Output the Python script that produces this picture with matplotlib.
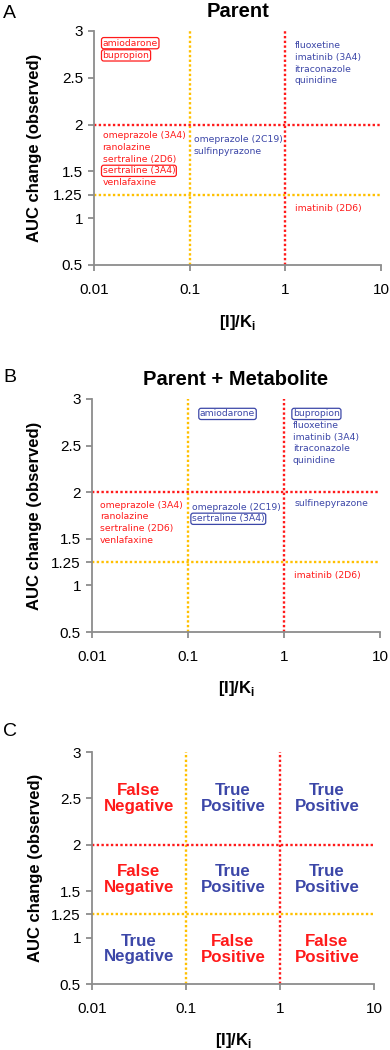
import matplotlib
matplotlib.use("Agg")
import matplotlib.pyplot as plt
import numpy as np

plt.rcParams['font.family'] = ['Liberation Sans', 'DejaVu Sans']
plt.rcParams['mathtext.fontset'] = 'custom'
plt.rcParams['mathtext.bf'] = 'Liberation Sans:bold'
plt.rcParams['mathtext.rm'] = 'Liberation Sans'

RED = '#ff1a1a'
BLUE = '#3c47a8'
ORANGE = '#ffc000'
GREY = '#8c8c8c'

# axis setup
x_ticks = [0.01, 0.1, 1, 10]
x_tick_labels = ['0.01', '0.1', '1', '10']
y_ticks = [0.5, 1, 1.25, 1.5, 2, 2.5, 3]
y_tick_labels = ['0.5', '1', '1.25', '1.5', '2', '2.5', '3']
ki_cutoffs = [0.1, 1]          # vertical thresholds
ki_colors = [ORANGE, RED]
auc_cutoffs = [1.25, 2]        # horizontal thresholds
auc_colors = [ORANGE, RED]

# panel A: parent
a_fn = ['amiodarone', 'bupropion']
a_fn_box = [True, True]
a_tp_high = ['fluoxetine', 'imatinib (3A4)', 'itraconazole', 'quinidine']
a_fn_mid = ['omeprazole (3A4)', 'ranolazine', 'sertraline (2D6)', 'sertraline (3A4)', 'venlafaxine']
a_fn_mid_box = [False, False, False, True, False]
a_tp_mid = ['omeprazole (2C19)', 'sulfinpyrazone']
a_fp_high = ['imatinib (2D6)']

# panel B: parent + metabolite
b_tp_mid_high = ['amiodarone']
b_tp_high = ['bupropion', 'fluoxetine', 'imatinib (3A4)', 'itraconazole', 'quinidine']
b_tp_high_box = [True, False, False, False, False]
b_fn_mid = ['omeprazole (3A4)', 'ranolazine', 'sertraline (2D6)', 'venlafaxine']
b_tp_mid = ['omeprazole (2C19)', 'sertraline (3A4)']
b_tp_mid_box = [False, True]
b_tp_mid_right = ['sulfinepyrazone']
b_fp_high = ['imatinib (2D6)']

# panel C: outcome grid
c_cols = [0.0316, 0.316, 3.16]
c_rows = [2.5, 1.625, 0.875]
c_labels = [['False\nNegative', 'True\nPositive', 'True\nPositive'],
            ['False\nNegative', 'True\nPositive', 'True\nPositive'],
            ['True\nNegative', 'False\nPositive', 'False\nPositive']]
c_colors = [[RED, BLUE, BLUE], [RED, BLUE, BLUE], [BLUE, RED, RED]]

W, H = 390, 1050
fig = plt.figure(figsize=(W / 100, H / 100), dpi=100)


def make_axes(left, right, top, bottom):
    ax = fig.add_axes([left / W, 1 - bottom / H, (right - left) / W, (bottom - top) / H])
    ax.set_xscale('log')
    ax.set_xlim(0.01, 10)
    ax.set_ylim(0.5, 3)
    ax.set_xticks(x_ticks)
    ax.set_xticklabels(x_tick_labels)
    ax.minorticks_off()
    ax.set_yticks(y_ticks)
    ax.set_yticklabels(y_tick_labels)
    for s in ['top', 'right']:
        ax.spines[s].set_visible(False)
    for s in ['left', 'bottom']:
        ax.spines[s].set_color(GREY)
        ax.spines[s].set_linewidth(1.3)
    ax.tick_params(axis='y', length=4, width=1.3, color=GREY, labelsize=11, pad=4)
    ax.tick_params(axis='x', length=4, width=1.3, color=GREY, labelsize=11, pad=9)
    for xv, c in zip(ki_cutoffs, ki_colors):
        ax.axvline(xv, color=c, lw=1.7, ls=(0, (1, 1)), zorder=1)
    for yv, c in zip(auc_cutoffs, auc_colors):
        ax.axhline(yv, color=c, lw=1.7, ls=(0, (1, 1)), zorder=1)
    ax.set_ylabel('AUC change (observed)', fontsize=12, fontweight='bold', va='center')
    ax.yaxis.set_label_coords((35 - left) / (right - left), 0.5)
    ax.set_xlabel(r'[I]/K$_\mathbf{i}$', fontsize=12, fontweight='bold', va='center')
    ax.xaxis.set_label_coords(0.5, -57 / (bottom - top))
    return ax


def stack(ax, x, y, names, color, boxed=None, step=8.4):
    if boxed is None:
        boxed = [False] * len(names)
    for i, (n, b) in enumerate(zip(names, boxed)):
        bbox = None
        if b:
            bbox = dict(boxstyle='round,pad=0.12,rounding_size=0.25', fc='white', ec=color, lw=0.9)
        ax.annotate(n, (x, y), xytext=(0, -i * step), textcoords='offset points',
                    fontsize=6.7, color=color, ha='left', va='center',
                    family='DejaVu Sans', bbox=bbox, zorder=3)


# Panel A
axA = make_axes(94, 381, 31, 265)
axA.set_title('Parent', fontsize=14.5, fontweight='bold', pad=10)
stack(axA, 0.0123, 2.87, a_fn, RED, a_fn_box, step=8.8)
stack(axA, 1.25, 2.84, a_tp_high, BLUE)
stack(axA, 0.0123, 1.88, a_fn_mid, RED, a_fn_mid_box)
stack(axA, 0.111, 1.84, a_tp_mid, BLUE)
stack(axA, 1.26, 1.10, a_fp_high, RED)

# Panel B
axB = make_axes(92, 380, 399, 632)
axB.set_title('Parent + Metabolite', fontsize=14.5, fontweight='bold', pad=10)
stack(axB, 0.133, 2.84, b_tp_mid_high, BLUE, [True])
stack(axB, 1.24, 2.84, b_tp_high, BLUE, b_tp_high_box)
stack(axB, 0.0121, 1.86, b_fn_mid, RED)
stack(axB, 0.11, 1.84, b_tp_mid, BLUE, b_tp_mid_box)
stack(axB, 1.29, 1.88, b_tp_mid_right, BLUE)
stack(axB, 1.27, 1.11, b_fp_high, RED)

# Panel C
axC = make_axes(92, 374, 752, 984)
for r, yv in enumerate(c_rows):
    for c, xv in enumerate(c_cols):
        axC.text(xv, yv, c_labels[r][c], color=c_colors[r][c], fontsize=12.2,
                 fontweight='bold', ha='center', va='center', linespacing=1.05)

for letter, yp in zip(['A', 'B', 'C'], [14, 377, 732]):
    fig.text(3 / W, 1 - yp / H, letter, fontsize=14, ha='left', va='center')

fig.savefig('out.png', dpi=100)
